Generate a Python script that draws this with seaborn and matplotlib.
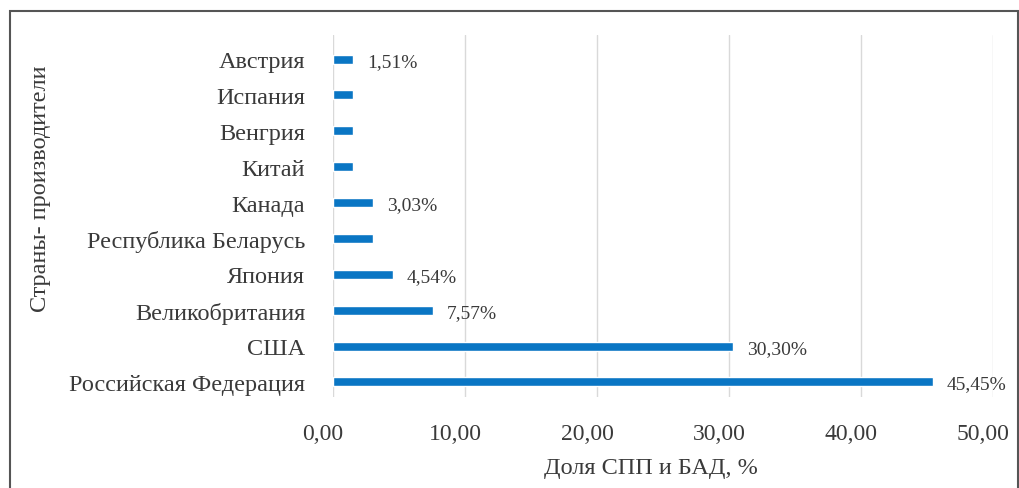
import numpy as np
import pandas as pd
import seaborn as sns
import matplotlib.pyplot as plt
import matplotlib.ticker as mticker
import matplotlib.transforms as mtransforms

countries = ['Австрия', 'Испания', 'Венгрия', 'Китай', 'Канада',
             'Республика Беларусь', 'Япония', 'Великобритания', 'США',
             'Российская Федерация']
shares = [1.51, 1.51, 1.51, 1.51, 3.03, 3.03, 4.54, 7.57, 30.30, 45.45]
bar_labels = ['1,51%', '', '', '', '3,03%', '', '4,54%', '7,57%', '30,30%', '45,45%']

df = pd.DataFrame({'Country': countries, 'Share': shares})

sns.set_style('white')
plt.rcParams['font.family'] = ['Liberation Serif', 'DejaVu Serif']

fig = plt.figure(figsize=(10.2, 4.89), dpi=100)
# axes from y=36px to y=398px
ax = fig.add_axes([0.3265, 1 - 398 / 489, 0.647, 362 / 489])

sns.barplot(data=df, x='Share', y='Country', orient='h', color='#0A76C4',
            saturation=1, width=0.25, ax=ax)

# value labels, a little to the right and below the bar end
for i, (v, lab) in enumerate(zip(shares, bar_labels)):
    if lab:
        ax.annotate(lab, xy=(v, i), xytext=(10, -1.5), textcoords='offset points',
                    ha='left', va='center', fontsize=14, color='#3a3a3a')

ax.set_xlim(0, 50)
ax.set_ylim(9.42, -0.67)
ax.xaxis.set_major_locator(mticker.MultipleLocator(10))
ax.xaxis.set_major_formatter(mticker.FuncFormatter(lambda v, p: f'{v:.2f}'.replace('.', ',')))
ax.grid(axis='x', color='#d9d9d9', linewidth=1)
ax.set_axisbelow(True)
for s in ax.spines.values():
    s.set_visible(False)
ax.tick_params(axis='x', length=0, pad=19, labelsize=17, labelcolor='#3a3a3a')
ax.tick_params(axis='y', length=0, pad=20, labelsize=17.5, labelcolor='#3a3a3a')

shift = mtransforms.ScaledTranslation(-10 / 100, 0, fig.dpi_scale_trans)
for t in ax.get_xticklabels():
    t.set_transform(t.get_transform() + shift)

ax.set_xlabel('Доля СПП и БАД, %', fontsize=17.5, color='#3a3a3a', labelpad=5)
ax.xaxis.set_label_coords(0.482, -0.165)
ax.set_ylabel('')
fig.text(0.04, 0.613, 'Страны- производители', rotation=90, ha='center', va='center',
         fontsize=17.5, color='#3a3a3a')

# outer frame
frame = plt.Rectangle((0.0098, -0.05), 0.988, 1.026, transform=fig.transFigure,
                      fill=False, edgecolor='#555555', linewidth=1.5)
fig.patches.append(frame)

plt.savefig('out.png', dpi=100)
plt.close()
